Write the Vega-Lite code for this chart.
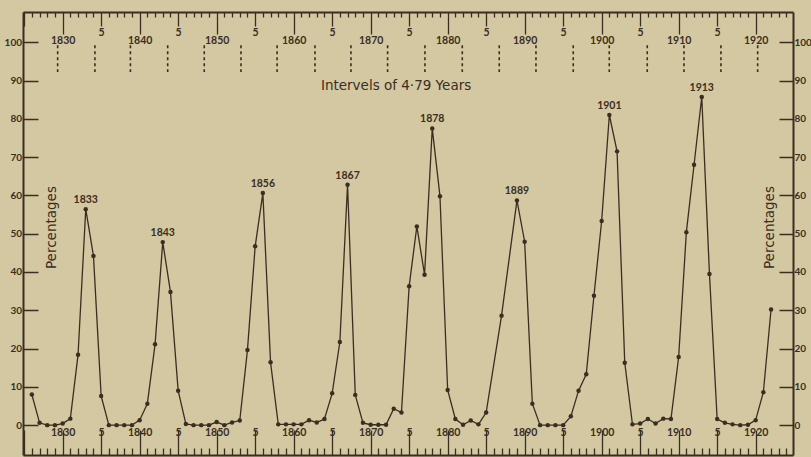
{
  "$schema": "https://vega.github.io/schema/vega-lite/v6.json",
  "width": 770,
  "height": 443,
  "autosize": {"type": "none"},
  "padding": {"left": 23, "top": 12, "right": 18, "bottom": 2},
  "background": "#d3c8a1",
  "config": {"view": {"stroke": null}},
  "datasets": {
    "series": [
      {"year": 1826, "value": 8.0}, {"year": 1827, "value": 0.6}, {"year": 1828, "value": 0}, {"year": 1829, "value": 0},
      {"year": 1830, "value": 0.4}, {"year": 1831, "value": 1.7}, {"year": 1832, "value": 18.4}, {"year": 1833, "value": 56.4},
      {"year": 1834, "value": 44.2}, {"year": 1835, "value": 7.6}, {"year": 1836, "value": 0}, {"year": 1837, "value": 0},
      {"year": 1838, "value": 0}, {"year": 1839, "value": 0}, {"year": 1840, "value": 1.3}, {"year": 1841, "value": 5.6},
      {"year": 1842, "value": 21.1}, {"year": 1843, "value": 47.8}, {"year": 1844, "value": 34.8}, {"year": 1845, "value": 9.0},
      {"year": 1846, "value": 0.3}, {"year": 1847, "value": 0}, {"year": 1848, "value": 0}, {"year": 1849, "value": 0},
      {"year": 1850, "value": 0.8}, {"year": 1851, "value": 0}, {"year": 1852, "value": 0.7}, {"year": 1853, "value": 1.2},
      {"year": 1854, "value": 19.6}, {"year": 1855, "value": 46.7}, {"year": 1856, "value": 60.6}, {"year": 1857, "value": 16.4},
      {"year": 1858, "value": 0.2}, {"year": 1859, "value": 0.2}, {"year": 1860, "value": 0.2}, {"year": 1861, "value": 0.2},
      {"year": 1862, "value": 1.3}, {"year": 1863, "value": 0.7}, {"year": 1864, "value": 1.6}, {"year": 1865, "value": 8.3},
      {"year": 1866, "value": 21.7}, {"year": 1867, "value": 62.8}, {"year": 1868, "value": 7.9}, {"year": 1869, "value": 0.6},
      {"year": 1870, "value": 0.1}, {"year": 1871, "value": 0.1}, {"year": 1872, "value": 0.1}, {"year": 1873, "value": 4.3},
      {"year": 1874, "value": 3.3}, {"year": 1875, "value": 36.3}, {"year": 1876, "value": 51.9}, {"year": 1877, "value": 39.3},
      {"year": 1878, "value": 77.5}, {"year": 1879, "value": 59.8}, {"year": 1880, "value": 9.2}, {"year": 1881, "value": 1.6},
      {"year": 1882, "value": 0.1}, {"year": 1883, "value": 1.2}, {"year": 1884, "value": 0.2}, {"year": 1885, "value": 3.3},
      {"year": 1887, "value": 28.6}, {"year": 1889, "value": 58.7}, {"year": 1890, "value": 47.9}, {"year": 1891, "value": 5.6},
      {"year": 1892, "value": 0}, {"year": 1893, "value": 0}, {"year": 1894, "value": 0}, {"year": 1895, "value": 0},
      {"year": 1896, "value": 2.3}, {"year": 1897, "value": 9.0}, {"year": 1898, "value": 13.3}, {"year": 1899, "value": 33.8},
      {"year": 1900, "value": 53.3}, {"year": 1901, "value": 81.0}, {"year": 1902, "value": 71.5}, {"year": 1903, "value": 16.3},
      {"year": 1904, "value": 0.2}, {"year": 1905, "value": 0.4}, {"year": 1906, "value": 1.6}, {"year": 1907, "value": 0.4},
      {"year": 1908, "value": 1.7}, {"year": 1909, "value": 1.6}, {"year": 1910, "value": 17.8}, {"year": 1911, "value": 50.4},
      {"year": 1912, "value": 68.0}, {"year": 1913, "value": 85.7}, {"year": 1914, "value": 39.5}, {"year": 1915, "value": 1.6},
      {"year": 1916, "value": 0.6}, {"year": 1917, "value": 0.2}, {"year": 1918, "value": 0}, {"year": 1919, "value": 0.1},
      {"year": 1920, "value": 1.3}, {"year": 1921, "value": 8.6}, {"year": 1922, "value": 30.2}
    ],
    "intervals": [
      {"year": 1829.35}, {"year": 1834.19}, {"year": 1838.8}, {"year": 1843.64}, {"year": 1848.39},
      {"year": 1853.16}, {"year": 1857.85}, {"year": 1862.77}, {"year": 1867.44}, {"year": 1872.2},
      {"year": 1877.05}, {"year": 1881.9}, {"year": 1886.7}, {"year": 1891.47}, {"year": 1896.31},
      {"year": 1900.99}, {"year": 1905.92}, {"year": 1910.69}, {"year": 1915.49}, {"year": 1920.26}
    ],
    "notes": [
      {"label": "Intervels of 4·79 Years"}
    ],
    "sides": [
      {"label": "Percentages", "side": "left"},
      {"label": "Percentages", "side": "right"}
    ]
  },
  "resolve": {"axis": {"x": "independent", "y": "independent"}},
  "layer": [
    {
      "data": {"name": "series"},
      "mark": {"type": "line", "color": "#3a2e22", "strokeWidth": 1.3},
      "encoding": {
        "x": {
          "field": "year", "type": "quantitative",
          "scale": {"domain": [1824.85, 1924.85], "nice": false, "zero": false},
          "axis": {
            "orient": "bottom", "offset": -443, "title": null, "grid": false,
            "values": [1825,1826,1827,1828,1829,1830,1831,1832,1833,1834,1835,1836,1837,1838,1839,1840,1841,1842,1843,1844,1845,1846,1847,1848,1849,1850,1851,1852,1853,1854,1855,1856,1857,1858,1859,1860,1861,1862,1863,1864,1865,1866,1867,1868,1869,1870,1871,1872,1873,1874,1875,1876,1877,1878,1879,1880,1881,1882,1883,1884,1885,1886,1887,1888,1889,1890,1891,1892,1893,1894,1895,1896,1897,1898,1899,1900,1901,1902,1903,1904,1905,1906,1907,1908,1909,1910,1911,1912,1913,1914,1915,1916,1917,1918,1919,1920,1921,1922,1923,1924],
            "domainColor": "#3a2e22", "domainWidth": 2,
            "tickColor": "#3a2e22", "tickWidth": 1.3,
            "tickSize": {"condition": [{"test": "datum.value % 10 === 0", "value": 22}, {"test": "datum.value % 5 === 0", "value": 14}], "value": 5},
            "labelExpr": "datum.value < 1826 ? '' : (datum.value % 10 === 0 ? '' + datum.value : (datum.value % 5 === 0 ? '5' : ''))",
            "labelPadding": 1, "labelOverlap": false, "labelFlush": false, "labelBound": false,
            "labelFont": "Lato", "labelFontSize": 10.5, "labelFontWeight": "bold", "labelColor": "#3a2e22"
          }
        },
        "y": {
          "field": "value", "type": "quantitative",
          "scale": {"domain": [-7.8, 107.9], "nice": false, "zero": false},
          "axis": {
            "orient": "right", "offset": -770, "title": null, "grid": false,
            "values": [0,10,20,30,40,50,60,70,80,90,100],
            "domainColor": "#3a2e22", "domainWidth": 2,
            "tickColor": "#3a2e22", "tickWidth": 1.5, "tickSize": 15,
            "labelAlign": "right", "labelPadding": -16.5, "labelBaseline": "middle",
            "labelFont": "Lato", "labelFontSize": 10, "labelFontWeight": "bold", "labelColor": "#3a2e22"
          }
        }
      }
    },
    {
      "data": {"name": "series"},
      "mark": {"type": "point", "filled": true, "size": 20, "color": "#3a2e22", "opacity": 1},
      "encoding": {
        "x": {
          "field": "year", "type": "quantitative",
          "scale": {"domain": [1824.85, 1924.85], "nice": false, "zero": false},
          "axis": {
            "orient": "top", "offset": -443, "title": null, "grid": false,
            "values": [1825,1826,1827,1828,1829,1830,1831,1832,1833,1834,1835,1836,1837,1838,1839,1840,1841,1842,1843,1844,1845,1846,1847,1848,1849,1850,1851,1852,1853,1854,1855,1856,1857,1858,1859,1860,1861,1862,1863,1864,1865,1866,1867,1868,1869,1870,1871,1872,1873,1874,1875,1876,1877,1878,1879,1880,1881,1882,1883,1884,1885,1886,1887,1888,1889,1890,1891,1892,1893,1894,1895,1896,1897,1898,1899,1900,1901,1902,1903,1904,1905,1906,1907,1908,1909,1910,1911,1912,1913,1914,1915,1916,1917,1918,1919,1920,1921,1922,1923,1924],
            "domainColor": "#3a2e22", "domainWidth": 2,
            "tickColor": "#3a2e22", "tickWidth": 1.3,
            "tickSize": {"condition": {"test": "datum.value % 5 === 0", "value": 25}, "value": 7},
            "labelExpr": "datum.value < 1826 ? '' : (datum.value % 10 === 0 ? '' + datum.value : (datum.value % 5 === 0 ? '5' : ''))",
            "labelPadding": -7, "labelOverlap": false, "labelFlush": false, "labelBound": false,
            "labelFont": "Lato", "labelFontSize": 10.5, "labelFontWeight": "bold", "labelColor": "#3a2e22"
          }
        },
        "y": {
          "field": "value", "type": "quantitative",
          "scale": {"domain": [-7.8, 107.9], "nice": false, "zero": false},
          "axis": {
            "orient": "left", "offset": -770, "title": null, "grid": false,
            "values": [0,10,20,30,40,50,60,70,80,90,100],
            "domainColor": "#3a2e22", "domainWidth": 2,
            "tickColor": "#3a2e22", "tickWidth": 1.5, "tickSize": 14,
            "labelAlign": "left", "labelPadding": -15, "labelBaseline": "middle",
            "labelFont": "Lato", "labelFontSize": 10, "labelFontWeight": "bold", "labelColor": "#3a2e22"
          }
        }
      }
    },
    {
      "data": {"name": "series"},
      "transform": [{"filter": {"field": "year", "oneOf": [1833, 1843, 1856, 1867, 1878, 1889, 1901, 1913]}}],
      "mark": {"type": "text", "baseline": "bottom", "dy": -4, "font": "Lato", "fontSize": 10.5, "fontWeight": "bold", "color": "#3a2e22"},
      "encoding": {
        "x": {"field": "year", "type": "quantitative", "axis": null},
        "y": {"field": "value", "type": "quantitative", "axis": null},
        "text": {"field": "year", "type": "quantitative", "format": "d"}
      }
    },
    {
      "data": {"name": "intervals"},
      "mark": {"type": "rule", "color": "#3a2e22", "strokeWidth": 1.6, "strokeDash": [3, 3]},
      "encoding": {
        "x": {"field": "year", "type": "quantitative", "axis": null},
        "y": {"datum": 99.2, "axis": null},
        "y2": {"datum": 92.2}
      }
    },
    {
      "data": {"name": "notes"},
      "mark": {"type": "text", "font": "DejaVu Sans", "fontSize": 13.5, "color": "#3a2e22", "baseline": "middle", "align": "center"},
      "encoding": {
        "x": {"datum": 1873.3, "type": "quantitative", "axis": null},
        "y": {"datum": 88.5, "type": "quantitative", "axis": null},
        "text": {"field": "label"}
      }
    },
    {
      "data": {"name": "sides"},
      "transform": [{"filter": "datum.side === 'left'"}],
      "mark": {"type": "text", "font": "DejaVu Sans", "fontSize": 13.5, "color": "#3a2e22", "baseline": "middle", "align": "center", "angle": 270},
      "encoding": {
        "x": {"datum": 1828.57, "type": "quantitative", "axis": null},
        "y": {"datum": 51.6, "type": "quantitative", "axis": null},
        "text": {"field": "label"}
      }
    },
    {
      "data": {"name": "sides"},
      "transform": [{"filter": "datum.side === 'right'"}],
      "mark": {"type": "text", "font": "DejaVu Sans", "fontSize": 13.5, "color": "#3a2e22", "baseline": "middle", "align": "center", "angle": 270},
      "encoding": {
        "x": {"datum": 1921.86, "type": "quantitative", "axis": null},
        "y": {"datum": 51.6, "type": "quantitative", "axis": null},
        "text": {"field": "label"}
      }
    }
  ]
}
